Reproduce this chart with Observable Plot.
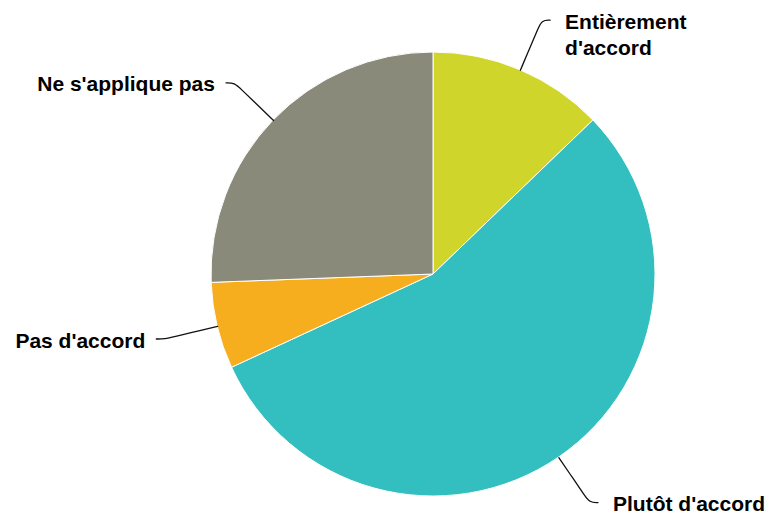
<!DOCTYPE html>
<html><head><meta charset="utf-8">
<script src="https://cdn.jsdelivr.net/npm/d3@7"></script>
<script src="https://cdn.jsdelivr.net/npm/@observablehq/plot@0.6"></script>
<style>body{margin:0;background:#fff}</style>
</head><body><div id="chart"></div>
<script>
// ---- data ----
const labels = ["Entièrement\nd'accord", "Plutôt d'accord", "Pas d'accord", "Ne s'applique pas"];
const values = [12.8, 55.3, 6.3, 25.6];
const colors = ["#cfd52a", "#33bec0", "#f6ae1f", "#8a8a7a"];

// ---- layout ----
const W = 773, H = 515;
const CX = 433, CY = 274, RPX = 222;   // pie centre and radius in pixels
const LABEL_R = 1.245, ELBOW = 0.038;  // in pie-radius units

const slices = labels.map((label, i) => ({label, value: values[i]}));
const arcs = d3.pie().sort(null).value(d => d.value)(slices);
slices.forEach((d, i) => {
  d.arc = arcs[i];
  d.mid = (arcs[i].startAngle + arcs[i].endAngle) / 2;
  d.side = Math.sin(d.mid) >= 0 ? 1 : -1;
});

const connectors = slices.flatMap(d => {
  const s = Math.sin(d.mid), c = Math.cos(d.mid);
  return [1, 1.12, 1.2, LABEL_R].map(r => ({label: d.label, x: s * r, y: c * r}))
    .concat([{label: d.label, x: s * LABEL_R + d.side * ELBOW, y: c * LABEL_R}]);
});
const anchors = slices.map(d => ({
  label: d.label, side: d.side,
  x: Math.sin(d.mid) * LABEL_R + d.side * ELBOW,
  y: Math.cos(d.mid) * LABEL_R
}));

const textOpts = {x: "x", y: "y", text: "label", lineAnchor: "top", dy: -10,
  fontSize: 21, fontWeight: "bold", lineHeight: 1.24, fill: "#000"};

const chart = Plot.plot({
  width: W, height: H,
  margin: 0,
  x: {domain: [-CX / RPX, (W - CX) / RPX], axis: null},
  y: {domain: [-(H - CY) / RPX, CY / RPX], axis: null},
  color: {domain: labels, range: colors},
  style: {fontFamily: "'Liberation Sans', Arial, sans-serif", background: "#fff"},
  marks: [
    Plot.dot(slices, {
      x: () => 0, y: () => 0, fill: "label",
      render(index, scales, channels) {
        const cx = scales.x(0), cy = scales.y(0), r = scales.x(1) - scales.x(0);
        const arc = d3.arc().innerRadius(0).outerRadius(r);
        const g = d3.create("svg:g").attr("transform", `translate(${cx},${cy})`);
        g.selectAll("path").data(index).join("path")
          .attr("d", i => arc(slices[i].arc))
          .attr("fill", i => channels.fill[i])
          .attr("stroke", "#fff").attr("stroke-width", 1).attr("stroke-linejoin", "round");
        return g.node();
      }
    }),
    Plot.line(connectors, {x: "x", y: "y", z: "label", curve: "basis", stroke: "#111", strokeWidth: 1.3}),
    Plot.text(anchors.filter(d => d.side > 0), {...textOpts, textAnchor: "start", dx: 15}),
    Plot.text(anchors.filter(d => d.side < 0), {...textOpts, textAnchor: "end", dx: -11})
  ]
});
document.getElementById("chart").append(chart);
</script>
</body></html>
